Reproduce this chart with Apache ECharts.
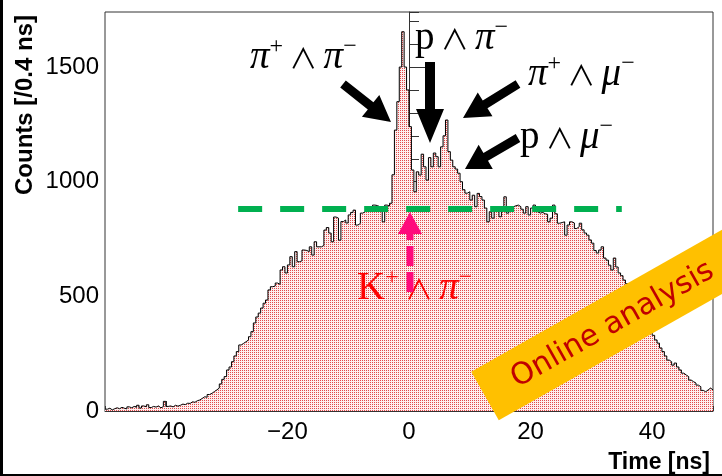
<!DOCTYPE html>
<html>
<head>
<meta charset="utf-8">
<script src="https://cdn.jsdelivr.net/npm/echarts@6/dist/echarts.min.js"></script>
<style>
    html, body { margin: 0; padding: 0; background: #fff; }
    #chart { width: 722px; height: 476px; }
</style>
</head>
<body>
<div id="chart"></div>
<script>
// 时间谱，每个 bin 0.4 ns，从 -50 ns 到 50 ns
const binStart = -50
const binWidth = 0.4
const counts = [
    8, 12, 5, 10, 14, 10, 16, 12, 9, 18,
    14, 20, 16, 25, 13, 22, 18, 27, 15, 20,
    17, 22, 14, 19, 42, 20, 22, 18, 25, 21,
    25, 30, 28, 34, 33, 40, 38, 45, 48, 55,
    62, 60, 72, 77, 85, 92, 100, 118, 138, 150,
    179, 192, 215, 240, 259, 288, 295, 302, 310, 324,
    346, 384, 410, 427, 449, 470, 484, 528, 542, 545,
    558, 552, 615, 629, 602, 637, 673, 629, 695, 651,
    655, 702, 700, 695, 716, 680, 738, 716, 716, 722,
    789, 800, 776, 738, 846, 841, 745, 826, 833, 820,
    855, 866, 876, 811, 818, 863, 869, 875, 891, 888,
    898, 896, 891, 889, 825, 898, 894, 906, 1030, 1225,
    1349, 1500, 1654, 1500, 1400, 1240, 1051, 956, 1043, 1029,
    1120, 1065, 1007, 1105, 1065, 1125, 1109, 1065, 1152, 1200,
    1269, 1131, 1094, 1065, 1055, 1037, 1000, 965, 950, 956,
    920, 941, 891, 949, 935, 920, 885, 825, 869, 841,
    885, 872, 847, 876, 934, 863, 885, 891, 895, 898,
    891, 880, 863, 891, 855, 885, 898, 869, 863, 866,
    860, 858, 825, 841, 898, 860, 819, 822, 825, 767,
    811, 825, 820, 796, 804, 819, 790, 776, 767, 746,
    732, 700, 689, 702, 716, 667, 658, 636, 615, 667,
    628, 602, 590, 571, 555, 532, 520, 497, 470, 455,
    428, 410, 389, 368, 353, 330, 310, 296, 275, 259,
    240, 222, 215, 200, 209, 192, 179, 165, 157, 150,
    135, 128, 122, 113, 106, 90, 84, 92, 100, 92
]
const xTickLabels = [-40, -20, 0, 20, 40]
const yTickLabels = [0, 500, 1000, 1500]
const baseLevel = 880 // 绿色虚线的计数
const baseRange = [-28.1, 35] // 绿色虚线的时间范围

// 台阶图的点：每个 bin 的左边沿，最后补一个右边沿
let points = counts.map((c, i) => [binStart + i * binWidth, c])
points.push([binStart + counts.length * binWidth, counts[counts.length - 1]])

// 红白点状填充
let pat = document.createElement('canvas')
pat.width = 2
pat.height = 2
let pc = pat.getContext('2d')
pc.fillStyle = '#fdeeee'
pc.fillRect(0, 0, 2, 2)
pc.fillStyle = '#e24a4a'
pc.fillRect(0, 0, 1, 1)

// 箭头多边形
function arrow (x1, y1, x2, y2, shaft, headW, headL) {
    let dx = x2 - x1
    let dy = y2 - y1
    let len = Math.hypot(dx, dy)
    let ux = dx / len
    let uy = dy / len
    let nx = -uy
    let ny = ux
    let bx = x2 - ux * headL
    let by = y2 - uy * headL
    return [
        [x1 + nx * shaft / 2, y1 + ny * shaft / 2],
        [bx + nx * shaft / 2, by + ny * shaft / 2],
        [bx + nx * headW / 2, by + ny * headW / 2],
        [x2, y2],
        [bx - nx * headW / 2, by - ny * headW / 2],
        [bx - nx * shaft / 2, by - ny * shaft / 2],
        [x1 - nx * shaft / 2, y1 - ny * shaft / 2]
    ]
}

function blackArrow (x1, y1, x2, y2, shaft, headW, headL) {
    return {
        type: 'polygon',
        z: 100,
        shape: { points: arrow(x1, y1, x2, y2, shaft, headW, headL) },
        style: { fill: '#000' }
    }
}

// 粒子标签，上标用小字号顶部对齐
const serif = 'Liberation Serif'
function particleLabel (x, y, text, color) {
    return {
        type: 'text',
        z: 100,
        x: x,
        y: y,
        style: {
            text: text,
            fill: color,
            align: 'left',
            verticalAlign: 'bottom',
            rich: {
                i: { fontFamily: serif, fontStyle: 'italic', fontSize: 39, lineHeight: 42, verticalAlign: 'bottom', fill: color },
                r: { fontFamily: serif, fontSize: 39, lineHeight: 42, verticalAlign: 'bottom', fill: color },
                o: { fontFamily: 'Noto Sans CJK SC', fontSize: 28, lineHeight: 35, padding: [0, 0, 5, 0], verticalAlign: 'bottom', fill: color },
                s: { fontFamily: serif, fontSize: 24, lineHeight: 24, verticalAlign: 'top', fill: color }
            }
        }
    }
}

let myChart = echarts.init(document.getElementById('chart'))
myChart.setOption({
    animation: false,
    grid: {
        left: 105,
        right: 9,
        top: 12,
        bottom: 65,
        show: true,
        borderColor: '#333',
        borderWidth: 1
    },
    xAxis: [{
        type: 'value',
        min: -50,
        max: 50,
        interval: 5,
        axisLine: { show: true, onZero: false, lineStyle: { color: '#333', width: 1 } },
        axisTick: { inside: true, length: 5, lineStyle: { color: '#333' } },
        axisLabel: {
            customValues: xTickLabels,
            formatter: v => v < 0 ? '\u2212' + (-v) : String(v),
            fontSize: 24,
            fontFamily: 'Liberation Sans',
            color: '#000',
            margin: 9
        },
        splitLine: { show: false }
    }, {
        type: 'value',
        position: 'bottom',
        min: -50,
        max: 50,
        interval: 5,
        axisLine: { show: false },
        axisTick: { customValues: xTickLabels, inside: true, length: 10, lineStyle: { color: '#333' } },
        axisLabel: { show: false },
        splitLine: { show: false }
    }],
    yAxis: [{
        type: 'value',
        min: 0,
        max: 1740,
        interval: 100,
        axisLine: { show: true, lineStyle: { color: '#333', width: 1 } },
        axisTick: { inside: true, length: 10, lineStyle: { color: '#333' } },
        axisLabel: {
            customValues: yTickLabels,
            formatter: v => String(v),
            fontSize: 24,
            fontFamily: 'Liberation Sans',
            color: '#000',
            margin: 6
        },
        splitLine: { show: false }
    }, {
        type: 'value',
        position: 'left',
        min: 0,
        max: 1740,
        interval: 100,
        axisLine: { show: false },
        axisTick: { customValues: yTickLabels, inside: true, length: 19, lineStyle: { color: '#333' } },
        axisLabel: { show: false },
        splitLine: { show: false }
    }],
    series: [{
        type: 'line',
        xAxisIndex: 0,
        yAxisIndex: 0,
        step: 'end',
        symbol: 'none',
        data: points,
        lineStyle: { color: '#000', width: 1 },
        areaStyle: { color: { image: pat, repeat: 'repeat' }, opacity: 1 },
        markLine: {
            silent: true,
            symbol: ['none', 'none'],
            label: { show: false },
            lineStyle: { color: '#00b050', width: 6, type: [24, 18], cap: 'butt' },
            data: [[{ coord: [baseRange[0], baseLevel] }, { coord: [baseRange[1], baseLevel] }]]
        }
    }],
    graphic: [
        // 轴标题
        {
            type: 'text',
            z: 100,
            x: 25,
            y: 105,
            rotation: Math.PI / 2,
            style: {
                text: 'Counts [/0.4 ns]',
                font: 'bold 24px "Liberation Sans"',
                fill: '#000',
                align: 'center',
                verticalAlign: 'middle'
            }
        },
        {
            type: 'text',
            z: 100,
            x: 710,
            y: 463,
            style: {
                text: 'Time [ns]',
                font: 'bold 23px "Liberation Sans"',
                fill: '#000',
                align: 'right',
                verticalAlign: 'middle'
            }
        },
        // 黑色箭头
        blackArrow(343, 84, 391, 122, 9, 28, 26),
        blackArrow(430, 62, 430, 143, 10, 28, 34),
        blackArrow(518, 84, 463, 118, 9, 28, 26),
        blackArrow(518, 138, 465, 169, 9, 28, 24),
        // 粒子标签
        particleLabel(250, 77, '{i|π}{s|+}{o| ∧ }{i|π}{s|−}', '#000'),
        particleLabel(415, 58, '{r|p}{o| ∧ }{i|π}{s|−}', '#000'),
        particleLabel(528, 94, '{i|π}{s|+}{o| ∧ }{i|μ}{s|−}', '#000'),
        particleLabel(520, 157, '{r|p}{o| ∧ }{i|μ}{s|−}', '#000'),
        particleLabel(357, 308, '{r|K}{s|+}{o| ∧ }{i|π}{s|−}', '#ff0000'),
        // 粉色虚线箭头
        {
            type: 'line',
            z: 100,
            shape: { x1: 410, y1: 292, x2: 410, y2: 233 },
            style: { stroke: '#ff0a7c', lineWidth: 7, lineDash: [20, 6] }
        },
        {
            type: 'polygon',
            z: 100,
            shape: { points: [[398, 234], [422, 234], [410, 212]] },
            style: { fill: '#ff0a7c' }
        },
        // Online analysis 横幅
        {
            type: 'group',
            z: 110,
            x: 485,
            y: 396,
            rotation: 0.515,
            children: [{
                type: 'rect',
                z: 110,
                shape: { x: 0, y: -28, width: 340, height: 56 },
                style: { fill: '#ffc000' }
            }, {
                type: 'text',
                z: 111,
                x: 146,
                y: 1,
                style: {
                    text: 'Online analysis',
                    font: '30px "DejaVu Sans"',
                    fill: '#c00000',
                    align: 'center',
                    verticalAlign: 'middle'
                }
            }]
        },
        // 外框
        { type: 'rect', z: 120, shape: { x: 0, y: 0, width: 3, height: 476 }, style: { fill: '#000' } },
        { type: 'rect', z: 120, shape: { x: 0, y: 474, width: 722, height: 2 }, style: { fill: '#000' } }
    ]
})
</script>
</body>
</html>
